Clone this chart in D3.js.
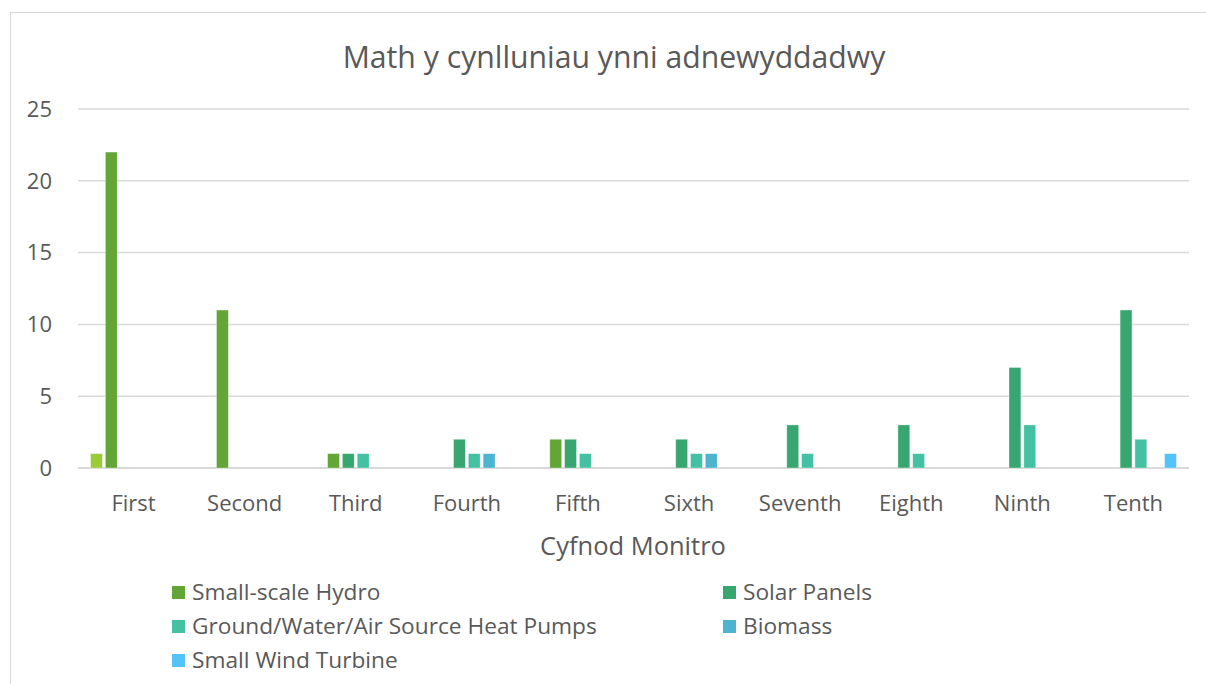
<!DOCTYPE html>
<html><head><meta charset="utf-8">
<script src="https://cdn.jsdelivr.net/npm/d3@7"></script>
<style>
body{margin:0;background:#fff;}
text{font-family:"Open Sans","Noto Sans",sans-serif;fill:#595959;}
</style></head>
<body><svg id="c" width="1206" height="684"></svg>
<script>
const categories = ["First","Second","Third","Fourth","Fifth","Sixth","Seventh","Eighth","Ninth","Tenth"];
const seriesNames = ["Other","Small-scale Hydro","Solar Panels","Ground/Water/Air Source Heat Pumps","Biomass","Small Wind Turbine"];
const seriesColors = ["#9BCB37","#63A537","#37A76F","#44C1A3","#4DB3CF","#53C3F9"];
const otherValues   = [1,0,0,0,0,0,0,0,0,0];
const hydroValues   = [22,11,1,0,2,0,0,0,0,0];
const solarValues   = [0,0,1,2,2,2,3,3,7,11];
const heatValues    = [0,0,1,1,1,1,1,1,3,2];
const biomassValues = [0,0,0,1,0,1,0,0,0,0];
const windValues    = [0,0,0,0,0,0,0,0,0,1];
const yTicks = [0,5,10,15,20,25];
const legendSeries = [1,2,3,4,5];
const title = "Math y cynlluniau ynni adnewyddadwy";
const xTitle = "Cyfnod Monitro";

const allValues = [otherValues,hydroValues,solarValues,heatValues,biomassValues,windValues];
const svg = d3.select("#c");
// frame
svg.append("rect").attr("x",10.5).attr("y",12.5).attr("width",1220).attr("height",700)
  .attr("fill","none").attr("stroke","#d9d9d9").attr("stroke-width",1.2);

const L=78,R=1189,T=109,B=468;
const x0 = d3.scaleBand().domain(categories).range([L,R]).paddingInner(0.2).paddingOuter(0.1);
const x1 = d3.scaleBand().domain(d3.range(seriesNames.length)).range([0,x0.bandwidth()]).paddingInner(0.2).paddingOuter(0.1);
const y = d3.scaleLinear().domain([0,25]).range([B,T]);

// gridlines
svg.append("g").selectAll("line").data(yTicks).join("line")
  .attr("x1",L).attr("x2",R).attr("y1",d=>y(d)).attr("y2",d=>y(d))
  .attr("stroke","#d9d9d9").attr("stroke-width",d=>d===0?2:1.5);

// y labels
svg.append("g").selectAll("text").data(yTicks).join("text")
  .attr("x",52).attr("y",d=>y(d)).attr("dy","0.35em").attr("text-anchor","end")
  .attr("font-size",22).text(d=>d);

// bars
const g = svg.append("g");
categories.forEach((c,ci)=>{
  allValues.forEach((vals,si)=>{
    const v = vals[ci];
    if(!v) return;
    g.append("rect")
      .attr("x",x0(c)+x1(si)).attr("width",x1.bandwidth())
      .attr("y",y(v)).attr("height",y(0)-y(v))
      .attr("fill",seriesColors[si]).attr("stroke","#ffffff").attr("stroke-opacity",0.4).attr("stroke-width",0.8);
  });
});

// x labels
svg.append("g").selectAll("text").data(categories).join("text")
  .attr("x",d=>x0(d)+x0.bandwidth()/2).attr("y",511).attr("text-anchor","middle")
  .attr("font-size",22).text(d=>d);

svg.append("text").attr("x",633).attr("y",555).attr("text-anchor","middle").attr("font-size",25.5).text(xTitle);
svg.append("text").attr("x",614).attr("y",68).attr("text-anchor","middle").attr("font-size",30.2).text(title);

// legend
const lg = svg.append("g");
legendSeries.forEach((si,i)=>{
  const col = i%2, row = Math.floor(i/2);
  const lx = col===0?172:723, ly = 592+row*34;
  lg.append("rect").attr("x",lx).attr("y",ly-6).attr("width",13).attr("height",13).attr("fill",seriesColors[si]);
  lg.append("text").attr("x",lx+20).attr("y",ly).attr("dy","0.35em").attr("font-size",22.7).text(seriesNames[si]);
});
</script></body></html>
